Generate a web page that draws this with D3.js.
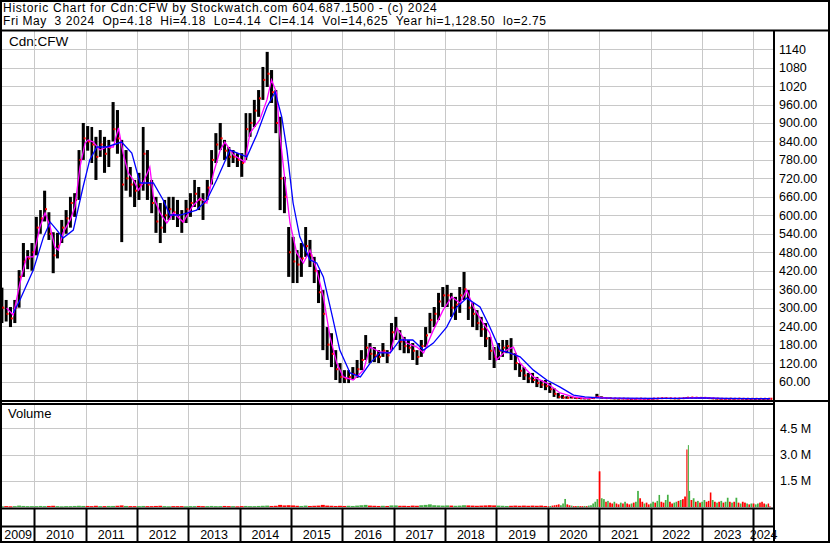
<!DOCTYPE html>
<html><head><meta charset="utf-8">
<script src="https://cdn.jsdelivr.net/npm/d3@7"></script>
<style>
body{margin:0;background:#fff;}
svg{display:block;font-family:Arial,"Liberation Sans",sans-serif;}
text{white-space:pre;}
</style>
</head><body>
<svg id="c" width="830" height="543"></svg>
<script>
const titleLine1 = "Historic Chart for Cdn:CFW by Stockwatch.com 604.687.1500 - (c) 2024";
const titleLine2 = "Fri May  3 2024  Op=4.18  Hi=4.18  Lo=4.14  Cl=4.14  Vol=14,625  Year hi=1,128.50  lo=2.75";
const symbolLabel = "Cdn:CFW";
const volumeLabel = "Volume";

// monthly bars, May 2009 .. May 2024
const priceHigh = [
 365,325,302,325,422,510,487,510,
 595,617,680,610,545,543,585,617,660,672,812,900,
 890,887,855,877,855,845,968,942,845,812,757,715,
 738,887,812,715,660,640,650,660,660,650,617,650,
 672,715,692,672,715,812,867,900,845,822,812,802,
 802,932,932,975,1007,1082,1131,1072,1007,920,725,562,
 530,487,510,562,520,465,422,357,237,217,162,120,
 97,97,107,130,162,211,185,172,162,185,162,250,
 270,227,205,195,185,162,195,237,283,302,348,367,
 374,348,335,367,416,357,315,292,270,250,205,172,
 185,195,195,201,152,120,107,88,88,75,65,65,
 55,39,23,16,12,12,9,7,6,5.5,8,20,
 12,9,8,6,5.5,6,5.5,4.5,5,5.5,5,4.5,
 5,6,7,7.5,7,6.5,6,7,9,9.5,9,8.5,
 8.5,7.5,6.5,5.5,5,5,5,5,5.5,5,4.5,4.5,
 4.5,4.5,4.5,4.5,4.18];
const priceLow = [
 250,255,237,250,300,400,425,420,
 470,540,580,520,412,460,510,540,560,595,650,780,
 810,770,715,790,738,757,840,800,513,680,660,627,
 650,680,650,607,543,510,543,585,585,562,543,575,
 595,627,617,585,650,700,770,812,780,757,770,757,
 725,780,855,887,920,975,1017,965,867,617,607,400,
 380,380,400,465,432,380,315,162,130,107,65,55,
 55,55,65,72,97,130,120,123,120,140,120,162,
 195,162,152,152,130,114,140,172,217,237,260,302,
 302,270,260,283,325,260,237,227,205,172,130,104,
 130,140,152,130,97,75,65,55,55,42,39,32,
 23,10,5,4,4,5,4,4,3.5,3.5,3.5,6,
 5,5,4.5,4,3.5,3.5,3.5,3,3,3.5,3.5,3,
 3.5,4,4.5,5,4.5,4,4,4.5,5.5,6.5,6,6,
 6,5.5,4.5,4,3.5,3.5,3.5,3.5,4,3.5,3.5,3.5,
 3.5,3.5,3.5,3.8,4.14];
const priceClose = [
 300,280,265,300,400,450,460,480,
 560,590,620,540,470,500,560,590,640,650,780,850,
 840,830,790,830,800,820,880,850,700,720,700,680,
 700,800,700,640,580,560,600,620,610,600,580,620,
 640,670,650,640,690,780,830,850,810,790,790,780,
 770,880,900,940,980,1040,1060,1000,900,720,660,480,
 450,440,460,500,470,420,350,280,180,150,100,75,
 70,75,85,100,130,170,150,145,140,160,145,220,
 230,190,175,170,160,140,175,210,260,280,320,340,
 340,300,310,340,360,300,280,250,230,200,160,140,
 160,170,175,150,120,95,80,70,65,55,50,45,
 35,20,10,8,7,8,6,5,5,4.5,6,10,
 7,6,5.5,5,4.5,4.5,4,3.5,4,4.5,4,3.5,
 4.5,5,6,6,5.5,5,5,6,7.5,8,7.5,7,
 7,6,5,4.5,4,4,4.5,4,4.5,4,4,4,
 4,4,4,4.2,4.14];

// moving averages: [decimal year, value]
const maShort = [[2009.46,299],[2009.59,276],[2009.72,380],[2009.85,465],[2009.98,465],[2010.11,562],[2010.21,608],[2010.31,562],[2010.40,497],[2010.47,487],[2010.56,543],[2010.70,585],[2010.79,627],[2010.89,757],[2010.99,835],[2011.05,845],[2011.15,838],[2011.28,812],[2011.41,822],[2011.54,822],[2011.64,884],[2011.73,802],[2011.83,738],[2011.93,715],[2012.03,682],[2012.12,705],[2012.25,757],[2012.32,660],[2012.45,608],[2012.58,575],[2012.71,608],[2012.90,578],[2013.07,627],[2013.23,656],[2013.36,640],[2013.49,738],[2013.62,812],[2013.71,838],[2013.88,796],[2014.10,773],[2014.20,867],[2014.39,910],[2014.53,975],[2014.62,1040],[2014.72,997],[2014.78,867],[2014.88,715],[2014.98,575],[2015.11,478],[2015.24,445],[2015.37,487],[2015.50,422],[2015.63,335],[2015.76,205],[2015.89,120],[2016.02,75],[2016.21,65],[2016.41,97],[2016.54,172],[2016.73,156],[2016.93,153],[2017.06,234],[2017.25,185],[2017.45,172],[2017.58,153],[2017.77,227],[2017.96,292],[2018.13,335],[2018.29,315],[2018.42,357],[2018.55,302],[2018.74,250],[2018.87,218],[2019.00,130],[2019.20,162],[2019.33,172],[2019.46,120],[2019.72,75],[2019.98,55],[2020.24,23],[2020.50,10],[2020.75,5],[2020.96,9],[2021.20,6],[2021.50,4.5],[2021.90,4],[2022.30,5.5],[2022.60,5.5],[2022.90,7.5],[2023.10,7],[2023.40,4.5],[2023.80,4.2],[2024.33,4.15]];
const maLong = [[2009.59,283],[2009.72,325],[2009.98,422],[2010.18,530],[2010.31,578],[2010.44,552],[2010.56,526],[2010.76,552],[2010.95,692],[2011.08,780],[2011.22,822],[2011.41,822],[2011.70,838],[2011.90,802],[2012.06,705],[2012.32,705],[2012.51,650],[2012.64,601],[2012.84,601],[2013.16,617],[2013.36,650],[2013.55,715],[2013.81,812],[2014.14,790],[2014.33,861],[2014.53,952],[2014.69,1001],[2014.82,919],[2014.92,812],[2015.04,640],[2015.17,530],[2015.37,455],[2015.50,445],[2015.63,400],[2015.82,260],[2015.95,162],[2016.15,88],[2016.35,75],[2016.54,120],[2016.73,153],[2016.93,153],[2017.12,195],[2017.37,195],[2017.58,162],[2017.77,185],[2018.03,237],[2018.23,302],[2018.42,331],[2018.68,302],[2018.87,237],[2019.07,162],[2019.26,153],[2019.46,140],[2019.72,97],[2019.98,65],[2020.24,42],[2020.50,16],[2020.72,10],[2021.00,7],[2021.50,6],[2022.00,5],[2022.50,5.5],[2023.00,7],[2023.50,5.5],[2024.00,4.5],[2024.33,4.3]];

// volume in millions: monthly May 2009 .. Dec 2019
const volMonthly = [
 0.04,0.05,0.04,0.05,0.08,0.06,0.05,0.05,
 0.05,0.06,0.05,0.06,0.07,0.05,0.04,0.05,0.05,0.06,0.07,0.06,
 0.06,0.05,0.07,0.05,0.05,0.06,0.06,0.07,0.09,0.06,0.05,0.05,
 0.05,0.06,0.05,0.05,0.06,0.07,0.05,0.04,0.05,0.05,0.05,0.04,
 0.05,0.05,0.06,0.05,0.05,0.06,0.05,0.05,0.06,0.05,0.05,0.04,
 0.05,0.06,0.05,0.05,0.06,0.07,0.08,0.06,0.07,0.12,0.09,0.10,
 0.09,0.07,0.06,0.08,0.06,0.07,0.08,0.12,0.08,0.07,0.06,0.07,
 0.06,0.07,0.06,0.08,0.10,0.12,0.08,0.07,0.06,0.07,0.06,0.09,
 0.09,0.07,0.07,0.06,0.08,0.07,0.10,0.12,0.15,0.10,0.09,0.08,
 0.09,0.08,0.07,0.08,0.10,0.09,0.08,0.07,0.08,0.09,0.10,0.09,
 0.08,0.07,0.06,0.07,0.08,0.07,0.08,0.07,0.08,0.07,0.08,0.06];
// volume in millions from 2020: [date, volume, direction]
const volRecent = [
 ["2020-01-05",0.05,"d"],["2020-01-20",0.06,"u"],["2020-02-05",0.08,"d"],["2020-02-20",0.10,"d"],["2020-03-05",0.12,"d"],["2020-03-20",0.15,"d"],["2020-04-05",0.10,"u"],["2020-04-20",0.20,"u"],["2020-05-05",0.46,"u"],["2020-05-20",0.15,"d"],["2020-06-05",0.10,"d"],["2020-06-20",0.08,"u"],["2020-07-05",0.05,"d"],["2020-07-20",0.05,"d"],["2020-08-05",0.06,"u"],["2020-08-20",0.05,"d"],["2020-09-05",0.05,"d"],["2020-09-20",0.06,"u"],["2020-10-05",0.05,"d"],["2020-10-20",0.08,"u"],["2020-11-05",0.10,"u"],["2020-11-20",0.20,"u"],["2020-12-05",0.30,"u"],["2020-12-20",0.45,"u"],
 ["2021-01-05",2.04,"d"],["2021-01-20",0.50,"u"],["2021-02-05",0.45,"u"],["2021-02-20",0.30,"d"],["2021-03-05",0.35,"u"],["2021-03-20",0.25,"d"],["2021-04-05",0.20,"d"],["2021-04-20",0.30,"u"],["2021-05-05",0.20,"d"],["2021-05-20",0.15,"d"],["2021-06-05",0.25,"u"],["2021-06-20",0.20,"d"],["2021-07-05",0.30,"u"],["2021-07-20",0.20,"d"],["2021-08-05",0.15,"d"],["2021-08-20",0.20,"u"],["2021-09-05",0.25,"d"],["2021-09-20",0.30,"u"],["2021-10-05",0.92,"u"],["2021-10-20",0.50,"d"],["2021-11-05",0.30,"d"],["2021-11-20",0.20,"u"],["2021-12-05",0.25,"d"],["2021-12-20",0.15,"d"],
 ["2022-01-05",0.20,"u"],["2022-01-20",0.30,"u"],["2022-02-05",0.25,"d"],["2022-02-20",0.35,"u"],["2022-03-05",0.69,"u"],["2022-03-20",0.30,"d"],["2022-04-05",0.25,"d"],["2022-04-20",0.40,"u"],["2022-05-05",0.70,"u"],["2022-05-20",0.30,"d"],["2022-06-05",0.20,"d"],["2022-06-20",0.25,"u"],["2022-07-05",0.30,"u"],["2022-07-20",0.35,"d"],["2022-08-05",0.40,"u"],["2022-08-20",0.45,"d"],["2022-09-05",0.60,"d"],["2022-09-20",3.29,"d"],["2022-09-27",3.54,"u"],["2022-10-05",0.92,"u"],["2022-10-20",0.40,"d"],["2022-11-05",0.50,"u"],["2022-11-20",0.30,"d"],["2022-12-05",0.35,"u"],["2022-12-20",0.25,"d"],
 ["2023-01-05",0.30,"u"],["2023-01-20",0.40,"u"],["2023-02-05",0.30,"d"],["2023-02-20",0.35,"d"],["2023-03-05",0.83,"d"],["2023-03-20",0.40,"u"],["2023-04-05",0.30,"d"],["2023-04-20",0.25,"u"],["2023-05-05",0.30,"d"],["2023-05-20",0.35,"u"],["2023-06-05",0.25,"d"],["2023-06-20",0.30,"u"],["2023-07-05",0.53,"u"],["2023-07-20",0.30,"d"],["2023-08-05",0.25,"u"],["2023-08-20",0.30,"d"],["2023-09-05",0.53,"u"],["2023-09-20",0.25,"d"],["2023-10-05",0.20,"u"],["2023-10-20",0.30,"d"],["2023-11-05",0.25,"d"],["2023-11-20",0.20,"u"],["2023-12-05",0.15,"d"],["2023-12-20",0.20,"u"],
 ["2024-01-05",0.20,"d"],["2024-01-20",0.15,"u"],["2024-02-05",0.20,"u"],["2024-02-20",0.25,"d"],["2024-03-05",0.30,"d"],["2024-03-20",0.20,"d"],["2024-04-05",0.15,"u"],["2024-04-20",0.20,"d"],["2024-05-02",0.05,"d"]];

const priceTicks = [60,120,180,240,300,360,420,480,540,600,660,720,780,840,900,960,1020,1080,1140];
const volTicks = [1.5,3.0,4.5];
const yearLabels = [2009,2010,2011,2012,2013,2014,2015,2016,2017,2018,2019,2020,2021,2022,2023,2024];

// ---------- layout ----------
const W = 830, H = 543;
const plotL = 2, plotR = 774;
const priceTop = 31, priceBot = 400;
const volTop = 404, volBot = 508;
const lastDay = new Date(2024,4,4);

const svg = d3.select("#c");
const x = d3.scaleTime().domain([new Date(2010,0,1), new Date(2024,0,1)]).range([34.3, 753.2]);
const y = d3.scaleLinear().domain([0, 1200]).range([priceBot, priceBot - 1200*0.3078]);
const yv = d3.scaleLinear().domain([0, 4.5]).range([507, 428.3]);
const decToDate = t => { const yr = Math.floor(t); const a = new Date(yr,0,1), b = new Date(yr+1,0,1); return new Date(+a + (t-yr)*(b-a)); };
const parse = d3.timeParse("%Y-%m-%d");

const months = d3.timeMonth.range(new Date(2009,4,1), new Date(2024,5,1));
const bars = months.map((m,i) => {
  const end = d3.min([d3.timeMonth.offset(m,1), lastDay]);
  return {start:m, end, high:priceHigh[i], low:priceLow[i], close:priceClose[i], up: i===0 ? true : priceClose[i] >= priceClose[i-1]};
});

svg.append("rect").attr("width",W).attr("height",H).attr("fill","#fff");

const defs = svg.append("defs");
defs.append("clipPath").attr("id","pclip").append("rect").attr("x",plotL).attr("y",priceTop).attr("width",plotR-plotL).attr("height",priceBot-priceTop);
defs.append("clipPath").attr("id","vclip").append("rect").attr("x",plotL).attr("y",volTop).attr("width",plotR-plotL).attr("height",volBot-volTop);
defs.append("clipPath").attr("id","dclip").append("rect").attr("x",plotL).attr("y",volBot).attr("width",plotR-plotL).attr("height",H-volBot);

const gridC = "#c8c8c8";
const yearStarts = d3.range(2010, 2025).map(yr => new Date(yr,0,1));

// grid: price panel
const gp = svg.append("g").attr("clip-path","url(#pclip)");
gp.selectAll("line.h").data(priceTicks).join("line")
  .attr("x1",plotL).attr("x2",plotR).attr("y1",d=>Math.round(y(d))+0.5).attr("y2",d=>Math.round(y(d))+0.5)
  .attr("stroke",gridC).attr("stroke-width",1);
gp.selectAll("line.v").data(yearStarts).join("line")
  .attr("x1",d=>Math.round(x(d))+0.5).attr("x2",d=>Math.round(x(d))+0.5).attr("y1",priceTop).attr("y2",priceBot)
  .attr("stroke",gridC).attr("stroke-width",1);
// grid: volume panel
const gv = svg.append("g").attr("clip-path","url(#vclip)");
gv.selectAll("line.h").data(volTicks).join("line")
  .attr("x1",plotL).attr("x2",plotR).attr("y1",d=>Math.round(yv(d))+0.5).attr("y2",d=>Math.round(yv(d))+0.5)
  .attr("stroke",gridC).attr("stroke-width",1);
gv.selectAll("line.v").data(yearStarts).join("line")
  .attr("x1",d=>Math.round(x(d))+0.5).attr("x2",d=>Math.round(x(d))+0.5).attr("y1",volTop).attr("y2",volBot)
  .attr("stroke",gridC).attr("stroke-width",1);

// price bars
const pb = gp.append("g");
pb.selectAll("rect.bar").data(bars).join("rect")
  .attr("x",d=>x(d.start)+0.5).attr("width",d=>Math.max(1,x(d.end)-x(d.start)-1.3))
  .attr("y",d=>y(d.high)).attr("height",d=>Math.max(1.2,y(d.low)-y(d.high)))
  .attr("fill","#000");
pb.selectAll("rect.cl").data(bars).join("rect")
  .attr("x",d=>x(d.start)+ (x(d.end)-x(d.start))*0.55).attr("width",2)
  .attr("y",d=>y(d.close)-1).attr("height",2)
  .attr("fill","#ff0000");

const lineGen = d3.line().x(d=>x(decToDate(d[0]))).y(d=>y(d[1]));
gp.append("path").datum(maShort).attr("d",lineGen).attr("fill","none").attr("stroke","#ff00ff").attr("stroke-width",1.3);
gp.append("path").datum(maLong).attr("d",lineGen).attr("fill","none").attr("stroke","#0000ff").attr("stroke-width",1.3);

// volume bars
const volAll = bars.slice(0, volMonthly.length).map((b,i)=>({start:b.start, end:b.end, v:volMonthly[i], up:b.up}));
const recent = volRecent.map(d=>({date:parse(d[0]), v:d[1], up:d[2]==="u"}));
recent.forEach((d,i)=>{
  const next = i < recent.length-1 ? recent[i+1].date : lastDay;
  const prev = i > 0 ? recent[i-1].date : new Date(2020,0,1);
  d.start = new Date((+prev + +d.date)/2);
  d.end = new Date((+d.date + +next)/2);
});
const volBars = volAll.concat(recent);
gv.append("g").selectAll("rect").data(volBars).join("rect")
  .attr("x",d=>x(d.start)).attr("width",d=>Math.max(1,x(d.end)-x(d.start)-0.4))
  .attr("y",d=>yv(d.v)).attr("height",d=>Math.max(1,yv(0)-yv(d.v)))
  .attr("fill",d=>d.up ? "#44b044" : "#ff0000");

// date band separators
const gd = svg.append("g").attr("clip-path","url(#dclip)");
gd.selectAll("line").data(yearStarts).join("line")
  .attr("x1",d=>Math.round(x(d))+0.5).attr("x2",d=>Math.round(x(d))+0.5).attr("y1",volBot).attr("y2",H)
  .attr("stroke","#000").attr("stroke-width",2);
const yearCells = yearLabels.map(yr => {
  const a = Math.max(plotL, x(new Date(yr,0,1))), b = Math.min(plotR, x(new Date(yr+1,0,1)));
  return {yr, c:(a+b)/2};
});
svg.append("g").selectAll("text").data(yearCells).join("text")
  .attr("x",d=>d.c).attr("y",538.5).attr("text-anchor","middle")
  .attr("font-size",12.5).attr("fill","#000").text(d=>d.yr);

// frame lines
const frame = svg.append("g").attr("stroke","#000").attr("stroke-width",2).attr("fill","none");
frame.append("rect").attr("x",1).attr("y",1).attr("width",W-2).attr("height",H-2);
frame.append("line").attr("x1",0).attr("x2",W).attr("y1",30.5).attr("y2",30.5);
frame.append("line").attr("x1",plotR).attr("x2",plotR).attr("y1",30).attr("y2",H);
frame.append("line").attr("x1",0).attr("x2",W).attr("y1",401).attr("y2",401);
frame.append("line").attr("x1",0).attr("x2",plotR).attr("y1",404).attr("y2",404);
frame.append("line").attr("x1",0).attr("x2",plotR).attr("y1",508.5).attr("y2",508.5);
frame.append("line").attr("x1",0).attr("x2",plotR).attr("y1",526.5).attr("y2",526.5);

// axis labels
const fmtP = v => v >= 1000 ? String(v) : v.toFixed(2);
svg.append("g").selectAll("text").data(priceTicks).join("text")
  .attr("x",779).attr("y",d=>y(d)+4.5).attr("font-size",12.5).attr("fill","#000").text(fmtP);
svg.append("g").selectAll("text").data(volTicks).join("text")
  .attr("x",780).attr("y",d=>yv(d)+4.5).attr("font-size",12.5).attr("fill","#000").text(d=>d.toFixed(1)+" M");

// titles
svg.append("text").attr("x",3).attr("y",12).attr("font-size",12).attr("letter-spacing",0.74).attr("fill","#000").text(titleLine1);
svg.append("text").attr("x",3).attr("y",25).attr("font-size",12).attr("letter-spacing",0.55).attr("fill","#000").text(titleLine2);
svg.append("text").attr("x",9).attr("y",46).attr("font-size",13.5).attr("fill","#000").text(symbolLabel);
svg.append("text").attr("x",8).attr("y",418).attr("font-size",13).attr("fill","#000").text(volumeLabel);
</script>
</body></html>
